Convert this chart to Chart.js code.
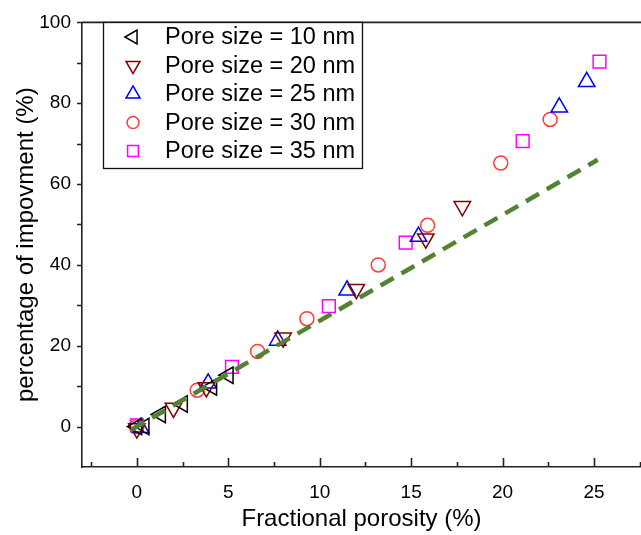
<!DOCTYPE html>
<html>
<head>
<meta charset="utf-8">
<script src="https://cdn.jsdelivr.net/npm/chart.js"></script>
<style>
  body { margin: 0; background: #fff; }
  canvas { display: block; }
</style>
</head>
<body>
<canvas id="myChart" width="641" height="535"></canvas>
<script>
// values
const seriesNames = ["Pore size = 10 nm", "Pore size = 20 nm", "Pore size = 25 nm", "Pore size = 30 nm", "Pore size = 35 nm"];

const x10 = [0, 0.4, 1.3, 2.5, 4.1, 5.0];
const y10 = [0, 0, 3.0, 5.6, 9.8, 12.7];

const x20 = [0, 2.0, 3.8, 8.0, 12.0, 15.8, 17.8];
const y20 = [-0.5, 4.6, 9.7, 22.0, 34.0, 46.5, 54.5];

const x25 = [0.2, 3.9, 7.7, 11.5, 15.4, 23.1, 24.6];
const y25 = [-0.3, 10.7, 21.3, 33.7, 47.0, 79.0, 85.3];

const x30 = [0, 3.3, 6.6, 9.3, 13.2, 15.9, 19.9, 22.6];
const y30 = [0, 9.0, 18.6, 26.7, 40.0, 49.8, 65.2, 76.0];

const x35 = [0, 5.2, 10.5, 14.7, 21.1, 25.3];
const y35 = [0.3, 14.8, 29.8, 45.5, 70.6, 90.3];

const fitX = [-0.3, 25.2];
const fitY = [-0.8, 66.0];

const xTickValues = [0, 5, 10, 15, 20, 25];
const xMinorValues = [-2.5, 2.5, 7.5, 12.5, 17.5, 22.5, 27.5];
const yTickValues = [0, 20, 40, 60, 80, 100];
const yMinorValues = [10, 30, 50, 70, 90];

const FONT = "'Liberation Sans', Arial, sans-serif";

const toPoints = (xs, ys) => xs.map((v, i) => ({ x: v, y: ys[i] }));

const markers = [
  { color: "#000000", style: "triangle", rotation: -90, radius: 9.5 },
  { color: "#800000", style: "triangle", rotation: 180, radius: 9.5 },
  { color: "#0000ff", style: "triangle", rotation: 0, radius: 9.5 },
  { color: "#ff3b3b", style: "circle", rotation: 0, radius: 7 },
  { color: "#ff00ff", style: "rect", rotation: 0, radius: 9 },
];

const seriesData = [
  toPoints(x10, y10),
  toPoints(x20, y20),
  toPoints(x25, y25),
  toPoints(x30, y30),
  toPoints(x35, y35),
];

const datasets = seriesData.map((pts, i) => ({
  type: "scatter",
  label: seriesNames[i],
  data: pts,
  order: 1,
  pointStyle: markers[i].style,
  rotation: markers[i].rotation,
  pointRadius: markers[i].radius,
  pointHoverRadius: markers[i].radius,
  borderColor: markers[i].color,
  backgroundColor: "rgba(0,0,0,0)",
  pointBorderWidth: 1.5,
}));

datasets.push({
  type: "line",
  label: "fit",
  data: toPoints(fitX, fitY),
  order: 0,
  showLine: true,
  pointRadius: 0,
  borderColor: "#548235",
  borderWidth: 4.5,
  borderDash: [15, 9],
  fill: false,
});

const frameAndLegend = {
  id: "frameAndLegend",
  afterDraw(chart) {
    const { ctx, chartArea: a, scales } = chart;
    const x = scales.x, y = scales.y;
    ctx.save();
    ctx.strokeStyle = "#222";
    ctx.lineWidth = 1.6;
    ctx.beginPath();
    ctx.moveTo(a.left, a.top);
    ctx.lineTo(a.right, a.top);
    // x ticks point inward
    xTickValues.forEach((v) => {
      const px = Math.round(x.getPixelForValue(v)) + 0.5;
      ctx.moveTo(px, a.bottom);
      ctx.lineTo(px, a.bottom - 9);
    });
    xMinorValues.forEach((v) => {
      const px = Math.round(x.getPixelForValue(v)) + 0.5;
      ctx.moveTo(px, a.bottom);
      ctx.lineTo(px, a.bottom - 5);
    });
    // y ticks point outward
    yTickValues.concat(yMinorValues).forEach((v) => {
      const py = Math.round(y.getPixelForValue(v)) + 0.5;
      ctx.moveTo(a.left, py);
      ctx.lineTo(a.left - 5, py);
    });
    ctx.stroke();

    // legend box
    ctx.fillStyle = "#fff";
    ctx.fillRect(103, 22, 259, 146);
    ctx.lineWidth = 1.3;
    ctx.strokeStyle = "#111";
    ctx.strokeRect(103.5, 22.5, 259, 146);
    ctx.font = "23.5px " + FONT;
    ctx.textBaseline = "middle";
    ctx.fillStyle = "#000";
    seriesNames.forEach((name, i) => {
      const ly = 37 + i * 28.5;
      const m = markers[i];
      ctx.strokeStyle = m.color;
      ctx.fillStyle = "rgba(0,0,0,0)";
      ctx.lineWidth = 1.5;
      Chart.helpers.drawPoint(ctx, {
        pointStyle: m.style,
        rotation: m.rotation,
        radius: m.radius * 0.85,
        borderWidth: 1.5,
      }, 133, ly);
      ctx.fillStyle = "#000";
      ctx.fillText(name, 165, ly + 1);
    });
    ctx.restore();
  },
};

const ctx = document.getElementById("myChart").getContext("2d");
const myChart = new Chart(ctx, {
  data: { datasets: datasets },
  plugins: [frameAndLegend],
  options: {
    responsive: false,
    animation: false,
    layout: { autoPadding: false, padding: { top: 18, right: 0, left: 0, bottom: 0 } },
    plugins: { legend: { display: false }, tooltip: { enabled: false } },
    scales: {
      x: {
        type: "linear",
        min: -3,
        max: 27.57,
        afterBuildTicks: (s) => { s.ticks = xTickValues.map((v) => ({ value: v })); },
        afterFit: (s) => { s.height = 68; },
        grid: { display: false, drawTicks: false },
        border: { display: true, color: "#222", width: 1.6 },
        ticks: { font: { family: FONT, size: 19 }, color: "#000", padding: 14, maxRotation: 0 },
        title: {
          display: true,
          text: "Fractional porosity (%)",
          font: { family: FONT, size: 24 },
          color: "#000",
          padding: { top: 0, bottom: 1 },
        },
      },
      y: {
        type: "linear",
        min: -10,
        max: 100,
        afterBuildTicks: (s) => { s.ticks = yTickValues.map((v) => ({ value: v })); },
        afterFit: (s) => { s.width = 82; },
        grid: { display: false, drawTicks: false },
        border: { display: true, color: "#222", width: 1.6 },
        ticks: { font: { family: FONT, size: 19 }, color: "#000", padding: 11 },
        title: {
          display: true,
          text: "percentage of impovment (%)",
          font: { family: FONT, size: 24 },
          color: "#000",
          padding: { top: 12, bottom: 0 },
        },
      },
    },
  },
});
</script>
</body>
</html>
